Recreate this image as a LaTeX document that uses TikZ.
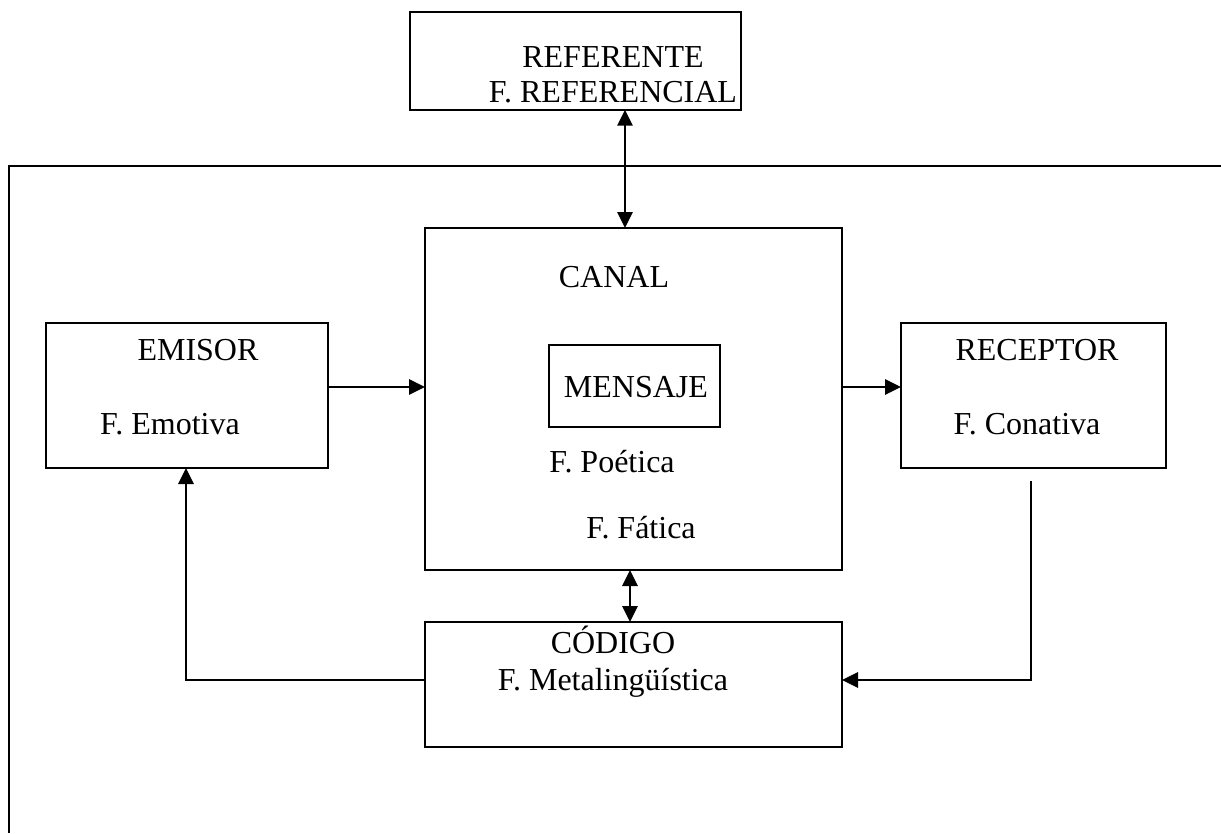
\documentclass[tikz,border=0pt]{standalone}
\usepackage{fontspec}
\setmainfont{Liberation Serif}
\usetikzlibrary{arrows.meta}
\begin{document}
\begin{tikzpicture}[x=0.75pt,y=-0.75pt,
  box/.style={draw,line width=1.3pt,rectangle,inner sep=0pt,outer sep=0pt},
  lbl/.style={inner sep=0pt,anchor=base,font=\fontsize{24}{28}\selectfont},
  conn/.style={line width=1.3pt},
  tip/.style={-{Triangle[length=12pt,width=11.5pt]}},
  dtip/.style={{Triangle[length=12pt,width=11.5pt]}-{Triangle[length=12pt,width=11.5pt]}}]
\useasboundingbox (0,0) rectangle (1221,833);
% outer frame (open)
\draw[conn] (1221,166) -- (9,166) -- (9,833);
% boxes
\node[box,minimum width=248.25pt,minimum height=73.1pt] (ref) at (575.5,61) {};
\node[box,minimum width=312.75pt,minimum height=256.5pt] (canal) at (633.5,399) {};
\node[box,minimum width=128.25pt,minimum height=61.5pt] (mensaje) at (634.5,386) {};
\node[box,minimum width=211.5pt,minimum height=108.75pt] (emisor) at (187,395.5) {};
\node[box,minimum width=198.75pt,minimum height=108.75pt] (receptor) at (1033.5,395.5) {};
\node[box,minimum width=312.75pt,minimum height=93.75pt] (codigo) at (633.5,684.5) {};
% texts
\node[lbl] (t1) at (613,67) {REFERENTE};
\node[lbl] (t2) at (613,102) {F. REFERENCIAL};
\node[lbl] (t3) at (614,287) {CANAL};
\node[lbl] (t4) at (636,397) {MENSAJE};
\node[lbl] (t5) at (612,472) {F. Poética};
\node[lbl] (t6) at (641,538) {F. Fática};
\node[lbl] (t7) at (198,360) {EMISOR};
\node[lbl] (t8) at (170,434) {F. Emotiva};
\node[lbl] (t9) at (1037,360) {RECEPTOR};
\node[lbl] (t10) at (1027,434) {F. Conativa};
\node[lbl] (t11) at (613,653) {CÓDIGO};
\node[lbl] (t12) at (613,690) {F. Metalingüística};
% helper coordinates
\coordinate (xr) at (625,0);
\coordinate (xc) at (630,0);
\coordinate (ya) at (0,387);
\coordinate (yc) at (0,680);
\coordinate (xl) at (186,0);
\coordinate (r1) at (1031,481);
% connectors
\draw[conn,dtip] (ref.south -| xr) -- (canal.north -| xr);
\draw[conn,dtip] (canal.south -| xc) -- (codigo.north -| xc);
\draw[conn,tip] (emisor.east |- ya) -- (canal.west |- ya);
\draw[conn,tip] (canal.east |- ya) -- (receptor.west |- ya);
\draw[conn,tip] (r1) |- (codigo.east |- yc);
\draw[conn,tip] (codigo.west |- yc) -| (emisor.south -| xl);
\end{tikzpicture}
\end{document}
